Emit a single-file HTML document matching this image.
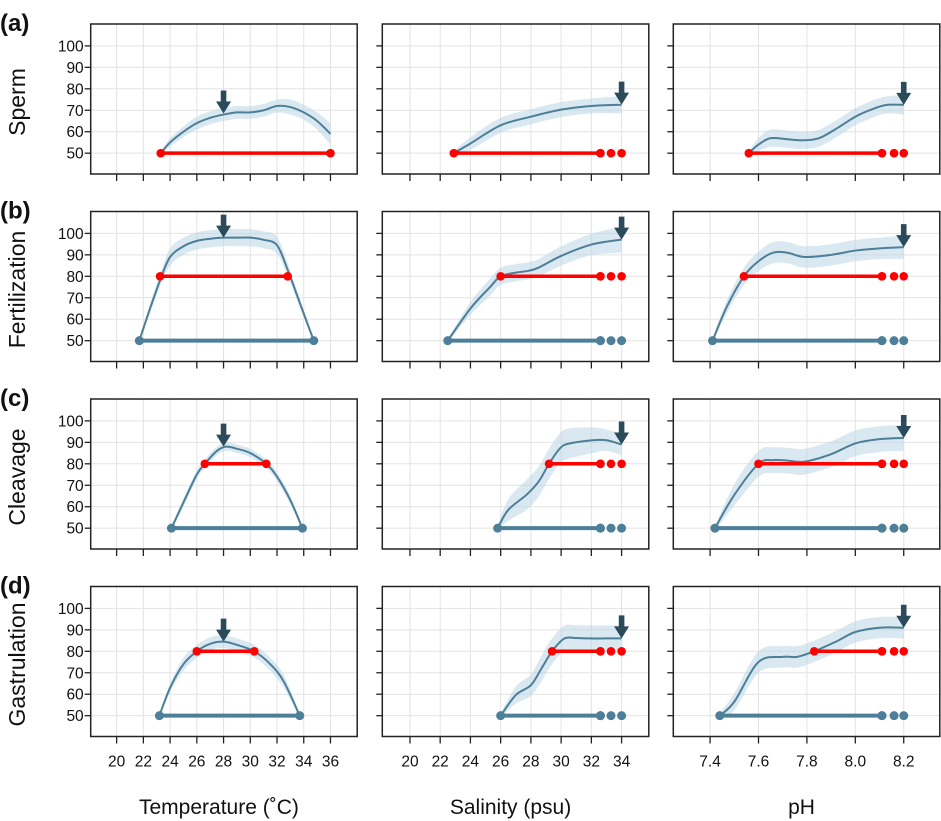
<!DOCTYPE html>
<html><head><meta charset="utf-8">
<style>
body{margin:0;background:#fff;}
svg{display:block;font-family:"Liberation Sans",Arial,sans-serif;}
</style></head>
<body>
<svg id="fig" width="941" height="821" viewBox="0 0 941 821"></svg>
<script>
// ---- data ----
const rowNames = ["Sperm","Fertilization","Cleavage","Gastrulation"];
const rowLetters = ["(a)","(b)","(c)","(d)"];
const colTitles = ["Temperature (˚C)","Salinity (psu)","pH"];
const yTicks = [50,60,70,80,90,100];
const tempTicks = [20,22,24,26,28,30,32,34,36];
const salTicks = [20,22,24,26,28,30,32,34];
const phTicks = [7.4,7.6,7.8,8.0,8.2];
const phTickLabels = ["7.4","7.6","7.8","8.0","8.2"];
const optimum = [28,34,8.2];
const salDots = [32.6,33.3,34];
const phDots = [8.11,8.16,8.2];

// curves: [row][col]
const curveX = [
 [[23.3,24,25,26,27,28,29,30,31,32,33,34,35,36],
  [22.9,24,26,28,30,32,34],
  [7.56,7.6,7.65,7.72,7.78,7.85,7.93,8.0,8.07,8.13,8.2]],
 [[21.7,22.5,23.3,24,25,26,27,28,29,30,31,32,32.8,33.8,34.75],
  [22.5,24,25.3,26,27,27.8,28.5,30,32,34],
  [7.41,7.47,7.54,7.6,7.66,7.72,7.79,7.9,8.0,8.1,8.2]],
 [[24.1,25,26,26.6,27.5,28.2,29,30,31.2,32,33,33.9],
  [25.8,26.5,27.7,28.5,29.2,29.9,30.5,32.1,33,34],
  [7.42,7.5,7.6,7.66,7.72,7.79,7.9,8.0,8.1,8.2]],
 [[23.2,24,25,26,27,28,29,30.3,31.5,32.5,33.7],
  [26,27,28,28.7,29.4,30.2,31,31.8,33,34],
  [7.44,7.5,7.6,7.7,7.76,7.83,7.92,8.0,8.1,8.2]]
];
const curveY = [
 [[50,55,60,64,66.5,68,69,69,70,72,71.5,69,65,59],
  [50,54.5,63,67,70.3,72,72.6],
  [50,54,57,56.5,56,57,62,67,70.5,72.5,72.5]],
 [[50,65,79,89,94,96.5,97.5,98,98,98,97,94.5,83,66,50],
  [50,65,75,80,81.7,82.5,84,89.5,94.8,97.1],
  [50,66,80,87,91,91,89,90,92,93,93.6]],
 [[50,62,75,80,86,88,87,85,80,74,63,50],
  [50,58.5,65.5,71.6,80,87,89.4,91,91,89],
  [50,65.5,80,81.7,81.5,81,84.5,89.5,91.5,92]],
 [[50,63,74,80,83.5,84.5,83,80,74,66,50],
  [50,59.6,64.2,72,80,85.9,86.2,86,86,86],
  [50,56.5,75,77.4,77.4,80,84.5,89,91,91]]
];
const bandW = [
 [[1,2,2.5,3,3,3,3,3,3,3,3.5,3.5,4,5],
  [1,3,3.5,3.5,3.5,3.5,4],
  [1,3,4,4,4,4,4,4,4,4,4.5]],
 [[1,2,3,4,4,4,4,4,4,4,4,4,3,2,1],
  [1,3,4,4,4,4,4,4.5,5,6],
  [1,3,4,4.5,5,5,5,5,5,5,5.5]],
 [[1,2,2,2,2,2,2,2,2,2,2,1],
  [1,5,7,7,7,7,7,6,5,5],
  [1,5,6,6,6,6,6,6,6,6]],
 [[1,2,3,3,3,3,3,3,3,3,1],
  [1,4,5,6,6,6,6,6,6,6],
  [1,4,5,5,5,5,5,5,5,5]]
];
// segments: [x0,x1]
const redSeg = [
 [[23.3,36],[22.9,32.6],[7.56,8.11]],
 [[23.25,32.8],[26,32.6],[7.54,8.11]],
 [[26.6,31.2],[29.2,32.6],[7.6,8.11]],
 [[26,30.3],[29.4,32.6],[7.83,8.11]]
];
const redY = [50,80,80,80];
const blueSeg = [
 null,
 [[21.7,34.75],[22.5,32.6],[7.41,8.11]],
 [[24.1,33.9],[25.8,32.6],[7.42,8.11]],
 [[23.2,33.7],[26,32.6],[7.44,8.11]]
];
const arrowY = [
 [68.5,72.6,72.5],
 [98,97.1,93.6],
 [88,89,92],
 [84.5,86,91]
];

// ---- layout ----
const NS="http://www.w3.org/2000/svg";
const svg=document.getElementById('fig');
const colLeft=[90.7,382.3,673.3], panelW=266.5, panelH=150;
const xlims=[[18.06,38.0],[18.17,35.8],[7.248,8.349]];
const ylim=[40.3,110.2];
function rowTop(r){return 24+r*187.5;}
function xs(c,v){return colLeft[c]+(v-xlims[c][0])/(xlims[c][1]-xlims[c][0])*panelW;}
function ys(r,v){return rowTop(r)+(ylim[1]-v)/(ylim[1]-ylim[0])*panelH;}
function el(tag,attrs,parent){const e=document.createElementNS(NS,tag);for(const k in attrs)e.setAttribute(k,attrs[k]);(parent||svg).appendChild(e);return e;}
function smooth(pts){
  let d="M"+pts[0][0]+","+pts[0][1];
  for(let i=0;i<pts.length-1;i++){
    const p0=pts[Math.max(i-1,0)],p1=pts[i],p2=pts[i+1],p3=pts[Math.min(i+2,pts.length-1)];
    const c1=[p1[0]+(p2[0]-p0[0])/6,p1[1]+(p2[1]-p0[1])/6];
    const c2=[p2[0]-(p3[0]-p1[0])/6,p2[1]-(p3[1]-p1[1])/6];
    d+=" C"+c1[0]+","+c1[1]+" "+c2[0]+","+c2[1]+" "+p2[0]+","+p2[1];
  }
  return d;
}
const xTicksCols=[tempTicks,salTicks,phTicks];
const xLabelsCols=[tempTicks.map(String),salTicks.map(String),phTickLabels];
const dotsCols=[null,salDots,phDots];

for(let r=0;r<4;r++){
  const t=rowTop(r);
  const lab=el('text',{x:0,y:t+7,'font-size':24,'font-weight':'bold',fill:'#111'});
  lab.textContent=rowLetters[r];
  
  
  const rn=el('text',{x:0,y:0,'font-size':23,fill:'#111','text-anchor':'middle',transform:`translate(25,${t+78}) rotate(-90)`});
  rn.textContent=rowNames[r];
  
  
  for(let c=0;c<3;c++){
    const g=el('g',{});
    
    
    const L=colLeft[c];
    xTicksCols[c].forEach(v=>{el('line',{x1:xs(c,v),x2:xs(c,v),y1:t,y2:t+panelH,stroke:'#e3e3e3','stroke-width':1},g);});
    yTicks.forEach(v=>{el('line',{x1:L,x2:L+panelW,y1:ys(r,v),y2:ys(r,v),stroke:'#e3e3e3','stroke-width':1},g);});
    const xa=curveX[r][c],ya=curveY[r][c],wa=bandW[r][c];
    const up=xa.map((x,i)=>[xs(c,x),ys(r,ya[i]+wa[i])]);
    const lo=xa.map((x,i)=>[xs(c,x),ys(r,ya[i]-wa[i])]).reverse();
    let dUp=smooth(up), dLo=smooth(lo).replace(/^M/,' L');
    const band=el('path',{d:dUp+dLo+' Z',fill:'#bcd7e6','fill-opacity':0.55,stroke:'none'},g);
    
    
    if(blueSeg[r]){
      const s=blueSeg[r][c];
      const bl=el('line',{x1:xs(c,s[0]),x2:xs(c,s[1]),y1:ys(r,50),y2:ys(r,50),stroke:'#4d7f98','stroke-width':4},g);
      
      
      [s[0],s[1]].forEach(v=>el('circle',{cx:xs(c,v),cy:ys(r,50),r:4.5,fill:'#4d7f98'},g));
      if(dotsCols[c]) dotsCols[c].forEach(v=>el('circle',{cx:xs(c,v),cy:ys(r,50),r:4.5,fill:'#4d7f98'},g));
    }
    const cv=el('path',{d:smooth(xa.map((x,i)=>[xs(c,x),ys(r,ya[i])])),fill:'none',stroke:'#4d7f98','stroke-width':2},g);
    
    
    const rs=redSeg[r][c], ry=redY[r];
    const rl=el('line',{x1:xs(c,rs[0]),x2:xs(c,rs[1]),y1:ys(r,ry),y2:ys(r,ry),stroke:'#ff0000','stroke-width':3.5},g);
    
    
    [rs[0],rs[1]].forEach(v=>el('circle',{cx:xs(c,v),cy:ys(r,ry),r:4.3,fill:'#ff0000'},g));
    if(dotsCols[c]) dotsCols[c].forEach(v=>el('circle',{cx:xs(c,v),cy:ys(r,ry),r:4.3,fill:'#ff0000'},g));
    const ax=xs(c,optimum[c]), ay=ys(r,arrowY[r][c]);
    const ar=el('path',{d:`M${ax-2.8},${ay-23} L${ax+2.8},${ay-23} L${ax+2.8},${ay-12} L${ax+7.5},${ay-12} L${ax},${ay} L${ax-7.5},${ay-12} L${ax-2.8},${ay-12} Z`,fill:'#2b4a5a'},g);
    
    
    el('rect',{x:L,y:t,width:panelW,height:panelH,fill:'none',stroke:'#222','stroke-width':1.5},g);
    yTicks.forEach(v=>{
      el('line',{x1:L-6,x2:L,y1:ys(r,v),y2:ys(r,v),stroke:'#222','stroke-width':1.3},g);
      if(c===0){const tx=el('text',{x:L-7,y:ys(r,v)+5.5,'font-size':15.5,'text-anchor':'end',fill:'#111'},g);tx.textContent=v;}
    });
    xTicksCols[c].forEach((v,i)=>{
      el('line',{x1:xs(c,v),x2:xs(c,v),y1:t+panelH,y2:t+panelH+7,stroke:'#222','stroke-width':1.3},g);
      if(r===3){const tx=el('text',{x:xs(c,v),y:t+panelH+30,'font-size':15.5,'text-anchor':'middle',fill:'#111'},g);tx.textContent=xLabelsCols[c][i];}
    });
  }
}
for(let c=0;c<3;c++){
  const tt=el('text',{x:colLeft[c]+panelW/2-5,y:814,'font-size':21,'text-anchor':'middle',fill:'#111'});
  tt.textContent=colTitles[c];
  
  
}
</script>
</body></html>
